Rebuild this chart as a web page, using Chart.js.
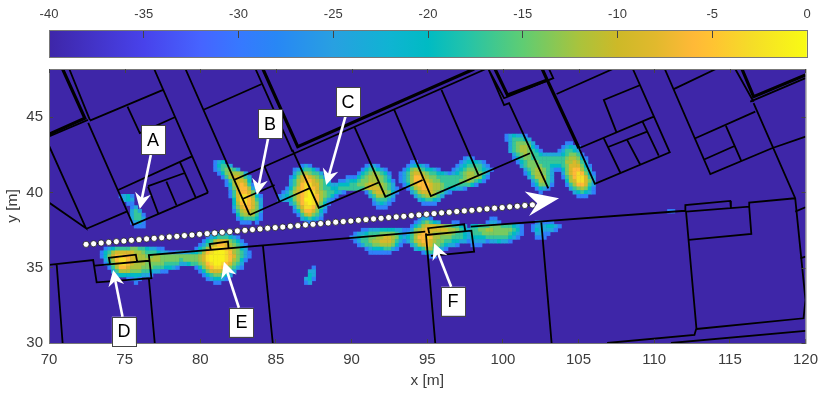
<!DOCTYPE html>
<html>
<head>
<meta charset="utf-8">
<title>Coverage map</title>
<script src="https://cdn.jsdelivr.net/npm/chart.js@4/dist/chart.umd.min.js"></script>
<style>
html, body { margin: 0; padding: 0; background: #fff; }
#wrap { position: relative; width: 830px; height: 393px; overflow: hidden; }
canvas { position: absolute; left: 0; top: 0; }
</style>
</head>
<body>
<div id="wrap">
<canvas id="mapChart" width="830" height="393"></canvas>
<canvas id="barChart" width="830" height="60"></canvas>
</div>
<script>
// colour bar, dB -> rgb
var colorStops = [
  [-40, 62, 38, 168], [-35, 72, 66, 235], [-32, 70, 100, 255], [-30, 55, 120, 255],
  [-28, 40, 135, 245], [-25, 40, 160, 225], [-22, 15, 180, 210], [-20, 0, 187, 195],
  [-18, 35, 195, 170], [-15, 95, 205, 115], [-12, 170, 195, 60], [-10, 205, 185, 40],
  [-8, 225, 185, 45], [-6, 255, 185, 55], [-5, 255, 195, 50], [-3, 245, 220, 40], [0, 249, 251, 20]
];
var barTicks = [-40, -35, -30, -25, -20, -15, -10, -5, 0];
var xTicks = [70, 75, 80, 85, 90, 95, 100, 105, 110, 115, 120];
var yTicks = [30, 35, 40, 45];

// heat map cells are 0.25 m, digits index into heatLevels (dB), '.' is the -40 dB floor
var heatLevels = [-29, -24, -20, -17, -14, -12, -9, -6, -3, -1];

var heatA = ['0120', '.121', '..00', '...01', '...131', '...1330', '...1331', '...0120', '....000'];
var heatB = [
  '012', '02331', '0134431', '.02455541', '..03566531', '...0356652', '...02567630',
  '....1467751', '....03677641', '....036887520', '.....26887631', '.....25787641',
  '.....14677641', '.....03566541', '......2455530', '......0233320', '.......000.0.'
];
var heatC = [
  '.......010..............0110',
  '.....0123320...........0233210',
  '.....13454331.........023454320',
  '....0246765431.....000234555431',
  '....13567765431..001223445554320',
  '....1357886643211222334456655431',
  '...024678876433223333333566654310',
  '..01356789865433210.....035665420',
  '.0123467898754320........1355431',
  '.111246799875310..........133310',
  '....13578986420...........01210',
  '.....146887531.............000',
  '.....025776420',
  '......0356431',
  '.......123210',
  '........000'
];
var heatD = [
  '.................010',
  '...00...........0122210',
  '..012210.......012333310',
  '.0245432210...01234443210',
  '013566543322101234554431',
  '013577654433333334555420',
  '01357776544333334454320',
  '.02567776554333333320',
  '..0356776554322110',
  '...13566654310',
  '....13455431',
  '.....123321',
  '......0000'
];
var heatE = [
  '012110',
  '0133321',
  '.1344431........00',
  '.13455420......01210',
  '.134554320....013321',
  '..1345433211111234430',
  '..02344333333333455420',
  '...0234443333333556531',
  '....1344443322234666420',
  '.....134554310024677531',
  '.....02455431..146787420',
  '......1355531..035788631',
  '.......135531...25688641',
  '.......024430...03577631',
  '........0210.....1345420',
  '.........0........123210',
  '...................000'
];
var heatF = [
  '.............................011110',
  '............................012333210',
  '...........................02356664320',
  '..........................0135677654310',
  '.0123333443321100........02357888765421',
  '0235666665543332110011112235789998754310',
  '0246787766554455444444444456899998764310',
  '.13578876655555544444344445689999875420',
  '.0246887655544444333311233457899876431',
  '..0357765554443332210....0246788764310',
  '...135554443321100........0246665421',
  '....1222222110.............02344321',
  '.......0010.................012210',
  '.........0....................00'
];
var heatG = [
  '....................0110',
  '...................0134321...00',
  '..................023566655443321',
  '.....00111222211001456766666554321',
  '...0112333444431013567765555543321',
  '..01233445566542123577875544433321',
  '...0133455666531013567765443322110',
  '....013344555420..1356764432110',
  '......012223310....123553210',
  '.......000000........02320',
  '.......................00'
];
var heatH = [
  '.....00',
  '....0110.........01000',
  '22333444333210..01112210',
  '33445544444320..0211110',
  '33344444443210...1100',
  '2222333333210....000',
  '11110112110',
  '000'
];
var heatI = ['..0', '.11', '.21', '120', '01'];
var heatJ = ['00'];

var heatPatches = [
  { rows: heatA, x: 74.75, y: 39.75 },
  { rows: heatB, x: 81, y: 42 },
  { rows: heatC, x: 85, y: 41.75 },
  { rows: heatD, x: 93.25, y: 42.25 },
  { rows: heatE, x: 100.25, y: 43.75 },
  { rows: heatF, x: 73.5, y: 37.25 },
  { rows: heatG, x: 89.5, y: 38.25 },
  { rows: heatH, x: 98, y: 38.25 },
  { rows: heatI, x: 87, y: 35 },
  { rows: heatJ, x: 111, y: 38.75 }
];

// building outlines in metres, x,y,x,y...
var wallsThick = [
  [70.90, 48.19, 72.37, 44.92, 70, 43.86],
  [84.14, 48.19, 86.44, 43.03, 98.10, 48.19],
  [99.48, 48.19, 100.30, 46.47, 102.93, 47.46, 102.60, 48.19],
  [102.93, 47.46, 105.03, 42.93],
  [115.80, 48.19, 116.57, 46.35, 120, 47.80]
];
var wallsThin = [
  [71.34, 48.19, 72.70, 44.81],
  [70, 43.71, 72.57, 44.81],
  [72.70, 44.76, 77.54, 46.80],
  [76.95, 48.19, 80.51, 39.98],
  [72.59, 44.61, 75.56, 37.84, 80.51, 39.98],
  [74.57, 40.16, 79.41, 42.37],
  [75.19, 45.69, 76.00, 43.94, 78.31, 44.99],
  [76.55, 40.42, 78.92, 41.27],
  [76.55, 40.38, 77.21, 38.61],
  [77.76, 40.71, 78.42, 39.16],
  [78.64, 42.04, 79.70, 39.65],
  [70, 43.10, 72.44, 37.62, 70, 39.32],
  [72.44, 37.57, 75.13, 38.72],
  [79.02, 48.19, 83.26, 38.50],
  [80.18, 45.47, 84.03, 47.18],
  [83.65, 48.19, 86.09, 42.70],
  [82.22, 40.82, 98.87, 48.19],
  [82.75, 39.54, 84.91, 40.49],
  [83.26, 38.50, 87.22, 40.27],
  [86.09, 42.82, 87.83, 38.98, 91.83, 40.67],
  [84.25, 41.71, 85.24, 39.38],
  [90.18, 44.36, 92.23, 39.71, 94.69, 40.82],
  [92.82, 45.47, 95.24, 39.76, 101.79, 42.60],
  [95.94, 46.80, 98.38, 41.16],
  [99.04, 48.19, 100.08, 45.80, 100.41, 45.92, 103.00, 40.27],
  [99.04, 48.19, 100.08, 46.25, 103.33, 47.58, 103.05, 48.19],
  [105.03, 42.93, 106.08, 40.56, 111.03, 42.66, 108.59, 48.19],
  [103.55, 46.53, 107.27, 48.19],
  [105.03, 42.93, 109.97, 45.03],
  [109.09, 47.13, 106.67, 46.14, 107.49, 44.03],
  [106.67, 43.59, 107.78, 41.27],
  [107.00, 43.03, 109.53, 44.03],
  [108.21, 43.48, 109.09, 41.82],
  [109.20, 44.76, 110.30, 42.44],
  [110.70, 48.19, 113.71, 41.22, 117.78, 42.93, 120, 43.70],
  [111.29, 46.85, 114.08, 48.19],
  [112.72, 43.59, 116.68, 45.36],
  [113.34, 42.20, 115.31, 43.08],
  [114.74, 44.41, 115.76, 42.08],
  [115.36, 48.19, 116.57, 46.02],
  [116.35, 46.02, 120, 47.58],
  [116.57, 45.92, 119.32, 39.61, 120, 32.86, 119.87, 31.64, 112.79, 30.93],
  [119.32, 38.72, 120, 39.01],
  [119.65, 35.62, 120, 35.73],
  [70, 35.18, 72.92, 35.51, 73.15, 34.03, 76.77, 34.30, 76.60, 35.84, 94.87, 37.39],
  [73.03, 35.13, 76.60, 35.46],
  [94.91, 37.28, 95.53, 30],
  [97.88, 37.72, 112.06, 38.78],
  [74.02, 35.29, 73.96, 35.66, 75.74, 35.86, 75.82, 35.44],
  [80.69, 36.18, 80.62, 36.57, 81.83, 36.73, 81.87, 36.24],
  [95.13, 37.28, 95.06, 37.62, 97.44, 37.88, 97.51, 37.46],
  [94.91, 37.17, 97.92, 37.46, 98.10, 36.06, 95.24, 35.78],
  [70.51, 35.18, 70.90, 30],
  [76.60, 34.30, 76.99, 30],
  [84.14, 36.46, 84.79, 30],
  [102.54, 38.01, 103.22, 30],
  [112.10, 38.78, 112.06, 39.16, 115.03, 39.43, 115.07, 38.94],
  [112.10, 38.72, 116.28, 39.05, 116.42, 37.24, 112.28, 36.84],
  [116.28, 39.05, 116.28, 39.32, 119.32, 39.61],
  [112.10, 38.78, 112.79, 30.98, 112.66, 30.53, 106.89, 30],
  [111.11, 30, 120, 30.80]
];

// measurement track, one point each 0.5 m
var trackX = [72.45, 72.95, 73.45, 73.95, 74.45, 74.95, 75.45, 75.95, 76.45, 76.95, 77.45, 77.95, 78.45, 78.95, 79.45,
  79.95, 80.45, 80.95, 81.45, 81.95, 82.45, 82.95, 83.45, 83.95, 84.45, 84.95, 85.45, 85.95, 86.45, 86.95,
  87.45, 87.95, 88.45, 88.95, 89.45, 89.95, 90.45, 90.95, 91.45, 91.95, 92.45, 92.95, 93.45, 93.95, 94.45,
  94.95, 95.45, 95.95, 96.45, 96.95, 97.45, 97.95, 98.45, 98.95, 99.45, 99.95, 100.45, 100.95, 101.45, 101.95];
var trackY = [36.55, 36.59, 36.64, 36.68, 36.73, 36.77, 36.82, 36.86, 36.91, 36.95, 36.99, 37.04, 37.08, 37.13, 37.17,
  37.22, 37.26, 37.30, 37.35, 37.39, 37.44, 37.48, 37.53, 37.57, 37.62, 37.66, 37.70, 37.75, 37.79, 37.84,
  37.88, 37.93, 37.97, 38.02, 38.06, 38.10, 38.15, 38.19, 38.24, 38.28, 38.33, 38.37, 38.41, 38.46, 38.50,
  38.55, 38.59, 38.64, 38.68, 38.73, 38.77, 38.81, 38.86, 38.90, 38.95, 38.99, 39.04, 39.08, 39.13, 39.17];

// labels with arrows, [label, box x, box y, tail x, tail y, tip x, tip y] in metres
var callouts = [
  ['A', 76.88, 43.48, 76.73, 42.48, 76.00, 38.90],
  ['B', 84.61, 44.55, 84.48, 43.58, 83.74, 39.83],
  ['C', 89.77, 46.00, 89.59, 45.03, 88.32, 40.49],
  ['D', 74.95, 30.78, 74.86, 31.75, 74.24, 34.85],
  ['E', 82.72, 31.37, 82.55, 32.34, 81.56, 35.40],
  ['F', 96.71, 32.77, 96.58, 33.74, 95.46, 36.62]
];
var directionArrow = [101.44, 40.05, 103.71, 39.61, 101.73, 38.43, 102.27, 39.28];

function colorOf(db) {
  for (var i = 1; i < colorStops.length; i++) {
    var a = colorStops[i - 1], b = colorStops[i];
    if (db <= b[0]) {
      var t = (db - a[0]) / (b[0] - a[0]);
      return 'rgb(' + Math.round(a[1] + t * (b[1] - a[1])) + ',' + Math.round(a[2] + t * (b[2] - a[2])) + ',' + Math.round(a[3] + t * (b[3] - a[3])) + ')';
    }
  }
  return 'rgb(249,251,20)';
}

var heatPoints = [], heatColors = [];
heatPatches.forEach(function (p) {
  p.rows.forEach(function (row, r) {
    for (var c = 0; c < row.length; c++) {
      if (row[c] === '.') continue;
      heatPoints.push({ x: p.x + c * 0.25, y: p.y - r * 0.25 });
      heatColors.push(colorOf(heatLevels[+row[c]]));
    }
  });
});

function wallPoints(list) {
  var pts = [];
  list.forEach(function (line) {
    for (var i = 0; i < line.length; i += 2) pts.push({ x: line[i], y: line[i + 1] });
    pts.push({ x: NaN, y: NaN });
  });
  return pts;
}

var family = '"Liberation Sans", Arial, sans-serif';
var axisFont = { family: family, size: 15 };
var titleFont = { family: family, size: 15.5 };
var barFont = { family: family, size: 13 };
var inkColor = '#3c3c3c';
var heatIndex = 3;

function cellRadius(ctx) {
  var s = ctx.chart.scales.x;
  return Math.abs(s.getPixelForValue(0.25) - s.getPixelForValue(0)) * 0.8;
}

var mapPlugin = {
  id: 'mapPlugin',
  beforeDatasetsDraw: function (chart) {
    var a = chart.chartArea, g = chart.ctx;
    g.save();
    g.fillStyle = 'rgb(62,38,168)';
    g.fillRect(a.left, a.top, a.right - a.left, a.bottom - a.top);
    g.restore();
  },
  // the reference raster is resampled, so soften the cell edges a little
  beforeDatasetDraw: function (chart, args) {
    if (args.index === heatIndex) chart.ctx.filter = 'blur(0.5px)';
  },
  afterDatasetDraw: function (chart, args) {
    if (args.index === heatIndex) chart.ctx.filter = 'none';
  },
  afterDraw: function (chart) {
    var a = chart.chartArea, g = chart.ctx, sx = chart.scales.x, sy = chart.scales.y;
    g.save();
    g.strokeStyle = '#777';
    g.lineWidth = 1;
    g.strokeRect(a.left + 0.5, a.top + 0.5, a.right - a.left, a.bottom - a.top);
    g.strokeStyle = '#444';
    g.beginPath();
    xTicks.forEach(function (v) {
      var p = Math.round(sx.getPixelForValue(v)) + 0.5;
      g.moveTo(p, a.top); g.lineTo(p, a.top + 4);
    });
    yTicks.forEach(function (v) {
      var p = Math.round(sy.getPixelForValue(v)) + 0.5;
      g.moveTo(a.right, p); g.lineTo(a.right - 4, p);
    });
    g.stroke();

    g.fillStyle = '#fff';
    g.beginPath();
    for (var i = 0; i < directionArrow.length; i += 2) {
      var px = sx.getPixelForValue(directionArrow[i]), py = sy.getPixelForValue(directionArrow[i + 1]);
      if (i === 0) g.moveTo(px, py); else g.lineTo(px, py);
    }
    g.closePath();
    g.fill();
    callouts.forEach(function (c) {
      var x0 = sx.getPixelForValue(c[3]), y0 = sy.getPixelForValue(c[4]);
      var x1 = sx.getPixelForValue(c[5]), y1 = sy.getPixelForValue(c[6]);
      var ang = Math.atan2(y1 - y0, x1 - x0);
      g.strokeStyle = '#fff';
      g.lineWidth = 2.6;
      g.beginPath();
      g.moveTo(x0, y0);
      g.lineTo(x1 - 8 * Math.cos(ang), y1 - 8 * Math.sin(ang));
      g.stroke();
      g.save();
      g.translate(x1, y1);
      g.rotate(ang);
      g.beginPath();
      g.moveTo(0, 0);
      g.lineTo(-16, -8);
      g.lineTo(-11, 0);
      g.lineTo(-16, 8);
      g.closePath();
      g.fill();
      g.restore();
      var bx = sx.getPixelForValue(c[1]), by = sy.getPixelForValue(c[2]);
      g.fillStyle = '#fff';
      g.strokeStyle = '#444';
      g.lineWidth = 1;
      g.fillRect(bx - 12, by - 14.5, 24, 29);
      g.strokeRect(Math.round(bx - 12) + 0.5, Math.round(by - 14.5) + 0.5, 24, 29);
      g.fillStyle = '#000';
      g.font = '18px "Liberation Sans", Arial, sans-serif';
      g.textAlign = 'center';
      g.textBaseline = 'middle';
      g.fillText(c[0], bx, by + 1);
      g.fillStyle = '#fff';
    });
    g.restore();
  }
};

new Chart(document.getElementById('mapChart'), {
  type: 'scatter',
  plugins: [mapPlugin],
  data: {
    datasets: [
      {
        label: 'track', data: trackX.map(function (x, i) { return { x: x, y: trackY[i] }; }),
        showLine: true, borderColor: '#000', borderWidth: 1, pointRadius: 3.1,
        pointBackgroundColor: '#fff', pointBorderColor: '#222', pointBorderWidth: 0.8, order: 1
      },
      {
        label: 'walls thick', data: wallPoints(wallsThick), showLine: true, spanGaps: false,
        borderColor: '#000', borderWidth: 3.2, pointRadius: 0, order: 2
      },
      {
        label: 'walls', data: wallPoints(wallsThin), showLine: true, spanGaps: false,
        borderColor: '#000', borderWidth: 1.8, pointRadius: 0, order: 3
      },
      {
        label: 'level', data: heatPoints, pointStyle: 'rect', pointRadius: cellRadius,
        pointBorderWidth: 0, pointBackgroundColor: heatColors, order: 4
      }
    ]
  },
  options: {
    responsive: false,
    animation: false,
    events: [],
    layout: { padding: { top: 69, right: 23, left: 0, bottom: 0 } },
    plugins: { legend: { display: false }, tooltip: { enabled: false } },
    scales: {
      x: {
        type: 'linear', min: 70, max: 120,
        afterFit: function (s) { s.height = 50; },
        afterBuildTicks: function (s) { s.ticks = xTicks.map(function (v) { return { value: v }; }); },
        ticks: { font: axisFont, color: inkColor, padding: 12, maxRotation: 0, autoSkip: false },
        grid: { drawOnChartArea: false, tickLength: -4, color: '#444', z: 1 },
        border: { display: false },
        title: { display: true, text: 'x [m]', font: titleFont, color: inkColor, padding: { top: 3, bottom: 3 } }
      },
      y: {
        type: 'linear', min: 30, max: 48.19,
        afterFit: function (s) { s.width = 49; },
        afterBuildTicks: function (s) { s.ticks = yTicks.map(function (v) { return { value: v }; }); },
        ticks: { font: axisFont, color: inkColor, padding: 10, autoSkip: false },
        grid: { drawOnChartArea: false, tickLength: -4, color: '#444', z: 1 },
        border: { display: false },
        title: { display: true, text: 'y [m]', font: titleFont, color: inkColor, padding: { top: 3, bottom: 3 } }
      }
    }
  }
});

new Chart(document.getElementById('barChart'), {
  type: 'bar',
  plugins: [{
    id: 'barFrame',
    afterDraw: function (chart) {
      var a = chart.chartArea, g = chart.ctx;
      g.save();
      g.strokeStyle = '#777';
      g.lineWidth = 1;
      g.strokeRect(a.left + 0.5, a.top + 0.5, a.right - a.left, a.bottom - a.top);
      g.restore();
    }
  }],
  data: {
    labels: ['level'],
    datasets: [{
      data: [[-40, 0]],
      barPercentage: 1,
      categoryPercentage: 1,
      backgroundColor: function (ctx) {
        var a = ctx.chart.chartArea;
        if (!a) return colorOf(-40);
        var g = ctx.chart.ctx.createLinearGradient(a.left, 0, a.right, 0);
        colorStops.forEach(function (s) {
          g.addColorStop((s[0] + 40) / 40, 'rgb(' + s[1] + ',' + s[2] + ',' + s[3] + ')');
        });
        return g;
      }
    }]
  },
  options: {
    indexAxis: 'y',
    responsive: false,
    animation: false,
    events: [],
    layout: { padding: { top: 0, right: 23, left: 49, bottom: 3 } },
    plugins: { legend: { display: false }, tooltip: { enabled: false } },
    scales: {
      x: {
        type: 'linear', position: 'top', min: -40, max: 0,
        afterFit: function (s) { s.height = 30; },
        afterBuildTicks: function (s) { s.ticks = barTicks.map(function (v) { return { value: v }; }); },
        ticks: { font: barFont, color: inkColor, padding: 16, maxRotation: 0, autoSkip: false },
        grid: { drawOnChartArea: false, tickLength: -8, color: '#444', z: 1 },
        border: { display: false }
      },
      y: { display: false }
    }
  }
});
</script>
</body>
</html>
